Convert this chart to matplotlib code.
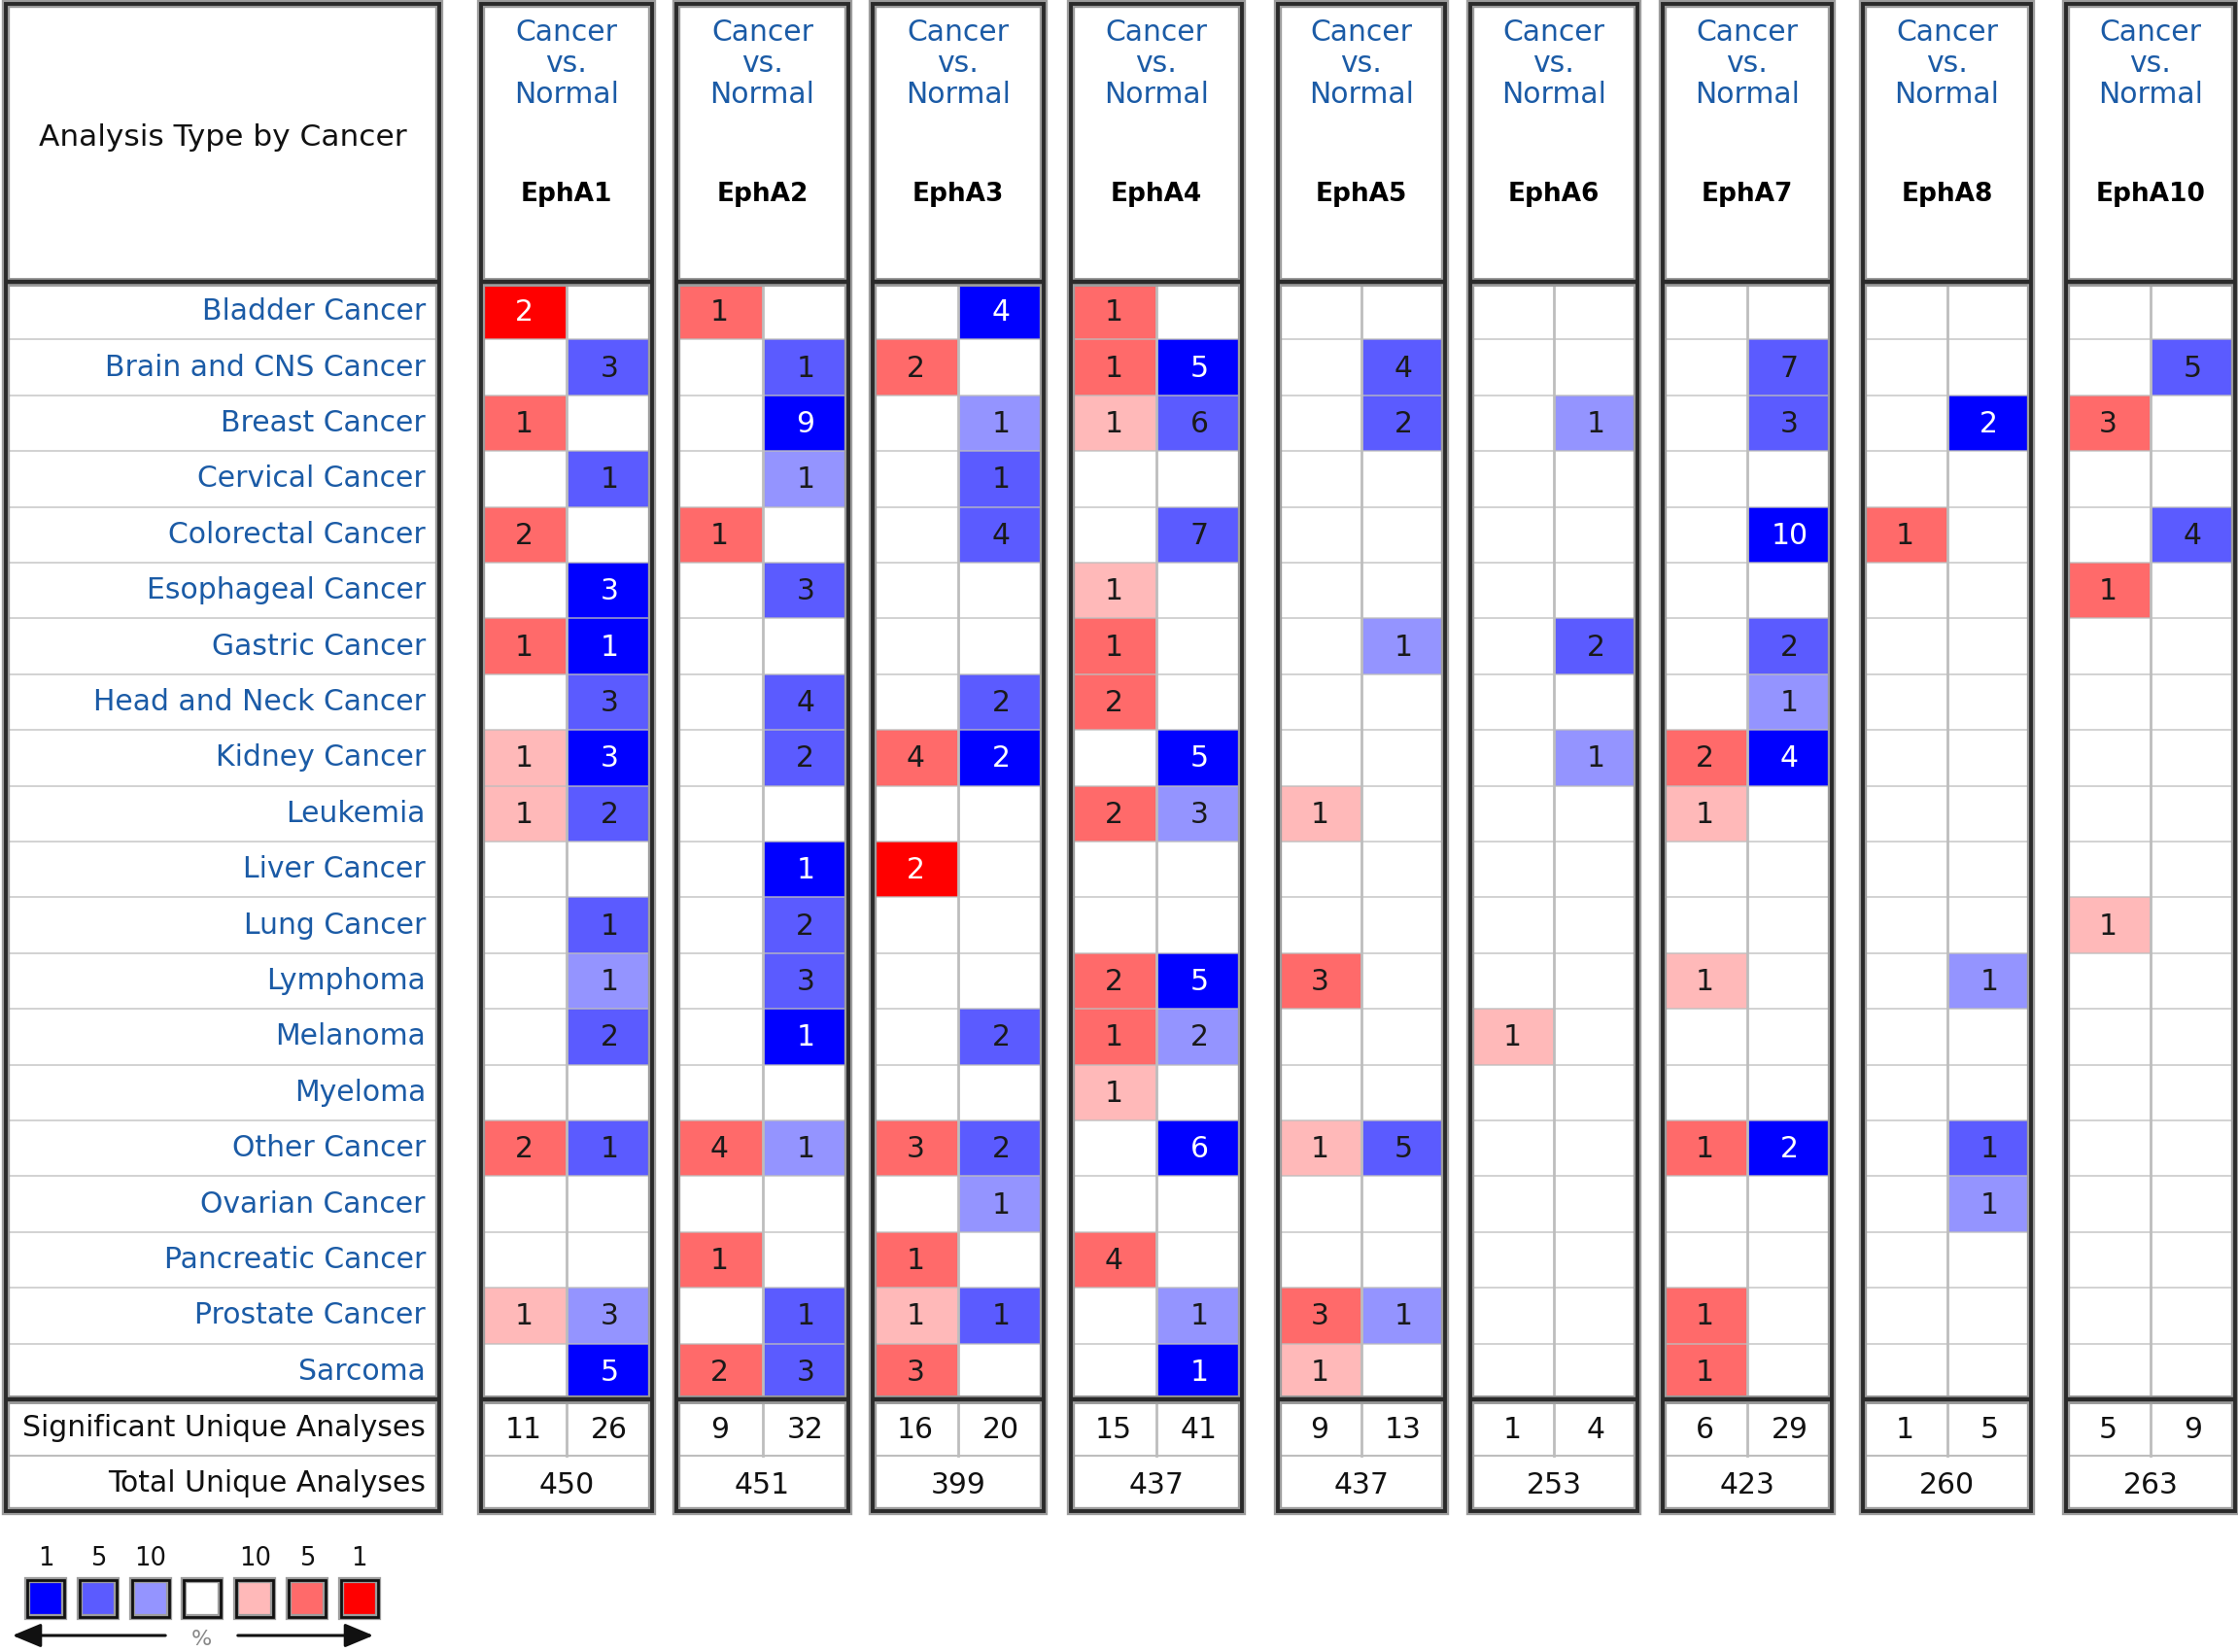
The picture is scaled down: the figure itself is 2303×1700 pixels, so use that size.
import matplotlib
matplotlib.use("Agg")
import matplotlib.pyplot as plt
from matplotlib.patches import Rectangle, FancyArrowPatch

genes = ["EphA1", "EphA2", "EphA3", "EphA4", "EphA5", "EphA6", "EphA7", "EphA8", "EphA10"]
cancers = ["Bladder Cancer", "Brain and CNS Cancer", "Breast Cancer", "Cervical Cancer",
           "Colorectal Cancer", "Esophageal Cancer", "Gastric Cancer", "Head and Neck Cancer",
           "Kidney Cancer", "Leukemia", "Liver Cancer", "Lung Cancer", "Lymphoma", "Melanoma",
           "Myeloma", "Other Cancer", "Ovarian Cancer", "Pancreatic Cancer", "Prostate Cancer",
           "Sarcoma"]

# rows = cancers, cols = genes; 0 = no significant analysis
up_count = [
    [2, 1, 0, 1, 0, 0, 0, 0, 0],
    [0, 0, 2, 1, 0, 0, 0, 0, 0],
    [1, 0, 0, 1, 0, 0, 0, 0, 3],
    [0, 0, 0, 0, 0, 0, 0, 0, 0],
    [2, 1, 0, 0, 0, 0, 0, 1, 0],
    [0, 0, 0, 1, 0, 0, 0, 0, 1],
    [1, 0, 0, 1, 0, 0, 0, 0, 0],
    [0, 0, 0, 2, 0, 0, 0, 0, 0],
    [1, 0, 4, 0, 0, 0, 2, 0, 0],
    [1, 0, 0, 2, 1, 0, 1, 0, 0],
    [0, 0, 2, 0, 0, 0, 0, 0, 0],
    [0, 0, 0, 0, 0, 0, 0, 0, 1],
    [0, 0, 0, 2, 3, 0, 1, 0, 0],
    [0, 0, 0, 1, 0, 1, 0, 0, 0],
    [0, 0, 0, 1, 0, 0, 0, 0, 0],
    [2, 4, 3, 0, 1, 0, 1, 0, 0],
    [0, 0, 0, 0, 0, 0, 0, 0, 0],
    [0, 1, 1, 4, 0, 0, 0, 0, 0],
    [1, 0, 1, 0, 3, 0, 1, 0, 0],
    [0, 2, 3, 0, 1, 0, 1, 0, 0],
]
# gene rank threshold: 1 = top 1%, 2 = top 5%, 3 = top 10%
up_level = [
    [1, 2, 0, 2, 0, 0, 0, 0, 0],
    [0, 0, 2, 2, 0, 0, 0, 0, 0],
    [2, 0, 0, 3, 0, 0, 0, 0, 2],
    [0, 0, 0, 0, 0, 0, 0, 0, 0],
    [2, 2, 0, 0, 0, 0, 0, 2, 0],
    [0, 0, 0, 3, 0, 0, 0, 0, 2],
    [2, 0, 0, 2, 0, 0, 0, 0, 0],
    [0, 0, 0, 2, 0, 0, 0, 0, 0],
    [3, 0, 2, 0, 0, 0, 2, 0, 0],
    [3, 0, 0, 2, 3, 0, 3, 0, 0],
    [0, 0, 1, 0, 0, 0, 0, 0, 0],
    [0, 0, 0, 0, 0, 0, 0, 0, 3],
    [0, 0, 0, 2, 2, 0, 3, 0, 0],
    [0, 0, 0, 2, 0, 3, 0, 0, 0],
    [0, 0, 0, 3, 0, 0, 0, 0, 0],
    [2, 2, 2, 0, 3, 0, 2, 0, 0],
    [0, 0, 0, 0, 0, 0, 0, 0, 0],
    [0, 2, 2, 2, 0, 0, 0, 0, 0],
    [3, 0, 3, 0, 2, 0, 2, 0, 0],
    [0, 2, 2, 0, 3, 0, 2, 0, 0],
]
down_count = [
    [0, 0, 4, 0, 0, 0, 0, 0, 0],
    [3, 1, 0, 5, 4, 0, 7, 0, 5],
    [0, 9, 1, 6, 2, 1, 3, 2, 0],
    [1, 1, 1, 0, 0, 0, 0, 0, 0],
    [0, 0, 4, 7, 0, 0, 10, 0, 4],
    [3, 3, 0, 0, 0, 0, 0, 0, 0],
    [1, 0, 0, 0, 1, 2, 2, 0, 0],
    [3, 4, 2, 0, 0, 0, 1, 0, 0],
    [3, 2, 2, 5, 0, 1, 4, 0, 0],
    [2, 0, 0, 3, 0, 0, 0, 0, 0],
    [0, 1, 0, 0, 0, 0, 0, 0, 0],
    [1, 2, 0, 0, 0, 0, 0, 0, 0],
    [1, 3, 0, 5, 0, 0, 0, 1, 0],
    [2, 1, 2, 2, 0, 0, 0, 0, 0],
    [0, 0, 0, 0, 0, 0, 0, 0, 0],
    [1, 1, 2, 6, 5, 0, 2, 1, 0],
    [0, 0, 1, 0, 0, 0, 0, 1, 0],
    [0, 0, 0, 0, 0, 0, 0, 0, 0],
    [3, 1, 1, 1, 1, 0, 0, 0, 0],
    [5, 3, 0, 1, 0, 0, 0, 0, 0],
]
down_level = [
    [0, 0, 1, 0, 0, 0, 0, 0, 0],
    [2, 2, 0, 1, 2, 0, 2, 0, 2],
    [0, 1, 3, 2, 2, 3, 2, 1, 0],
    [2, 3, 2, 0, 0, 0, 0, 0, 0],
    [0, 0, 2, 2, 0, 0, 1, 0, 2],
    [1, 2, 0, 0, 0, 0, 0, 0, 0],
    [1, 0, 0, 0, 3, 2, 2, 0, 0],
    [2, 2, 2, 0, 0, 0, 3, 0, 0],
    [1, 2, 1, 1, 0, 3, 1, 0, 0],
    [2, 0, 0, 3, 0, 0, 0, 0, 0],
    [0, 1, 0, 0, 0, 0, 0, 0, 0],
    [2, 2, 0, 0, 0, 0, 0, 0, 0],
    [3, 2, 0, 1, 0, 0, 0, 3, 0],
    [2, 1, 2, 3, 0, 0, 0, 0, 0],
    [0, 0, 0, 0, 0, 0, 0, 0, 0],
    [2, 3, 2, 1, 2, 0, 1, 2, 0],
    [0, 0, 3, 0, 0, 0, 0, 3, 0],
    [0, 0, 0, 0, 0, 0, 0, 0, 0],
    [3, 2, 2, 3, 3, 0, 0, 0, 0],
    [1, 2, 0, 1, 0, 0, 0, 0, 0],
]
sig_up = [11, 9, 16, 15, 9, 1, 6, 1, 5]
sig_down = [26, 32, 20, 41, 13, 4, 29, 5, 9]
total_analyses = [450, 451, 399, 437, 437, 253, 423, 260, 263]
legend_labels = ["1", "5", "10", "", "10", "5", "1"]
legend_levels = [("down", 1), ("down", 2), ("down", 3), (None, 0), ("up", 3), ("up", 2), ("up", 1)]

RED = {1: "#ff0000", 2: "#ff6a6a", 3: "#ffb9b9"}
BLUE = {1: "#0000ff", 2: "#5b5bff", 3: "#9494ff"}
LINK = "#1b5ba6"
DARK = "#2a2a2a"
HALO = "#9c9c9c"
GRID = "#bdbdbd"

# layout (pixels)
W, H = 2303, 1700
LEFT_X = (6, 452)
GENE_X = [(495, 671), (696, 873), (898, 1074), (1102, 1278), (1315, 1487),
          (1513, 1685), (1711, 1885), (1917, 2090), (2126, 2300)]
TOP, HEAD_BOT, ROW_TOP, ROW_BOT = 4, 290, 292, 1440
SIG_BOT, BOX_BOT = 1498, 1555
ROW_H = (ROW_BOT - ROW_TOP) / len(cancers)
FS = 21.5

fig = plt.figure(figsize=(W / 100, H / 100), dpi=100)
ax = fig.add_axes([0, 0, 1, 1])
ax.set_xlim(0, W)
ax.set_ylim(H, 0)
ax.axis("off")


def frame(x0, x1, y0, y1):
    ax.add_patch(Rectangle((x0, y0), x1 - x0, y1 - y0, fill=False, ec=HALO, lw=6, zorder=5))
    ax.add_patch(Rectangle((x0, y0), x1 - x0, y1 - y0, fill=False, ec=DARK, lw=2.8, zorder=6))


def thick_h(y, x0, x1):
    ax.plot([x0, x1], [y, y], color=HALO, lw=6.5, zorder=5, solid_capstyle="butt")
    ax.plot([x0, x1], [y, y], color=DARK, lw=3.2, zorder=6, solid_capstyle="butt")


def grid_lines(x0, x1):
    for i in range(1, len(cancers)):
        y = ROW_TOP + i * ROW_H
        ax.plot([x0, x1], [y, y], color=GRID, lw=1.2, alpha=0.8, zorder=3)
    ax.plot([x0, x1], [SIG_BOT, SIG_BOT], color=GRID, lw=1.5, zorder=3)


# left label box
lx0, lx1 = LEFT_X
frame(lx0, lx1, TOP, BOX_BOT)
thick_h(HEAD_BOT, lx0, lx1)
thick_h(ROW_BOT, lx0, lx1)
grid_lines(lx0, lx1)
ax.text((lx0 + lx1) / 2, 141, "Analysis Type by Cancer", fontsize=22.5, color="#111111",
        ha="center", va="center")
for i, name in enumerate(cancers):
    ax.text(lx1 - 14, ROW_TOP + (i + 0.5) * ROW_H, name, fontsize=FS, color=LINK,
            ha="right", va="center")
ax.text(lx1 - 14, (ROW_BOT + SIG_BOT) / 2, "Significant Unique Analyses", fontsize=FS,
        color="#111111", ha="right", va="center")
ax.text(lx1 - 14, (SIG_BOT + BOX_BOT) / 2, "Total Unique Analyses", fontsize=FS,
        color="#111111", ha="right", va="center")

# gene boxes
for j, gene in enumerate(genes):
    x0, x1 = GENE_X[j]
    xm = (x0 + x1) / 2
    frame(x0, x1, TOP, BOX_BOT)
    thick_h(HEAD_BOT, x0, x1)
    thick_h(ROW_BOT, x0, x1)
    grid_lines(x0, x1)
    ax.plot([xm, xm], [ROW_TOP, SIG_BOT], color=GRID, lw=2, zorder=3)

    for k, word in enumerate(["Cancer", "vs.", "Normal"]):
        ax.text(xm, 33 + k * 32, word, fontsize=FS, color=LINK, ha="center", va="center")
    ax.text(xm, 200, gene, fontsize=19, fontweight="bold", color="#000000",
            ha="center", va="center")

    for i in range(len(cancers)):
        y0 = ROW_TOP + i * ROW_H
        cells = [(x0, up_count[i][j], up_level[i][j], RED),
                 (xm, down_count[i][j], down_level[i][j], BLUE)]
        for cx, cnt, lvl, pal in cells:
            if cnt == 0:
                continue
            ax.add_patch(Rectangle((cx, y0), xm - x0, ROW_H, fc=pal[lvl], ec="none", zorder=2))
            ax.text(cx + (xm - x0) / 2, y0 + ROW_H / 2 + 1, str(cnt), fontsize=FS,
                    color="white" if lvl == 1 else "#1a1a1a", ha="center", va="center",
                    zorder=4)

    ax.text((x0 + xm) / 2, (ROW_BOT + SIG_BOT) / 2 + 2, str(sig_up[j]), fontsize=FS,
            color="#111111", ha="center", va="center")
    ax.text((xm + x1) / 2, (ROW_BOT + SIG_BOT) / 2 + 2, str(sig_down[j]), fontsize=FS,
            color="#111111", ha="center", va="center")
    ax.text(xm, (SIG_BOT + BOX_BOT) / 2 + 2, str(total_analyses[j]), fontsize=FS,
            color="#111111", ha="center", va="center")

# legend
LEG_X0, LEG_STEP, LEG_SIZE, LEG_Y = 28, 53.8, 38, 1626
for k, (lab, (side, lvl)) in enumerate(zip(legend_labels, legend_levels)):
    sx = LEG_X0 + k * LEG_STEP
    if side == "down":
        fc = BLUE[lvl]
    elif side == "up":
        fc = RED[lvl]
    else:
        fc = "white"
    ax.add_patch(Rectangle((sx, LEG_Y), LEG_SIZE, LEG_SIZE, fc=fc, ec=HALO, lw=4.5, zorder=5))
    ax.add_patch(Rectangle((sx, LEG_Y), LEG_SIZE, LEG_SIZE, fc="none", ec="#111111", lw=2,
                           zorder=6))
    if lab:
        ax.text(sx + LEG_SIZE / 2, LEG_Y - 22, lab, fontsize=18.5, color="#111111",
                ha="center", va="center")

ax.add_patch(FancyArrowPatch((173, 1683), (10, 1683), arrowstyle="-|>,head_length=12,head_width=5",
                             color="#111111", lw=2.2, mutation_scale=1.5))
ax.add_patch(FancyArrowPatch((242, 1683), (387, 1683), arrowstyle="-|>,head_length=12,head_width=5",
                             color="#111111", lw=2.2, mutation_scale=1.5))
ax.text(207, 1687, "%", fontsize=16, color="#888888", ha="center", va="center")

fig.savefig("out.png", dpi=100)
